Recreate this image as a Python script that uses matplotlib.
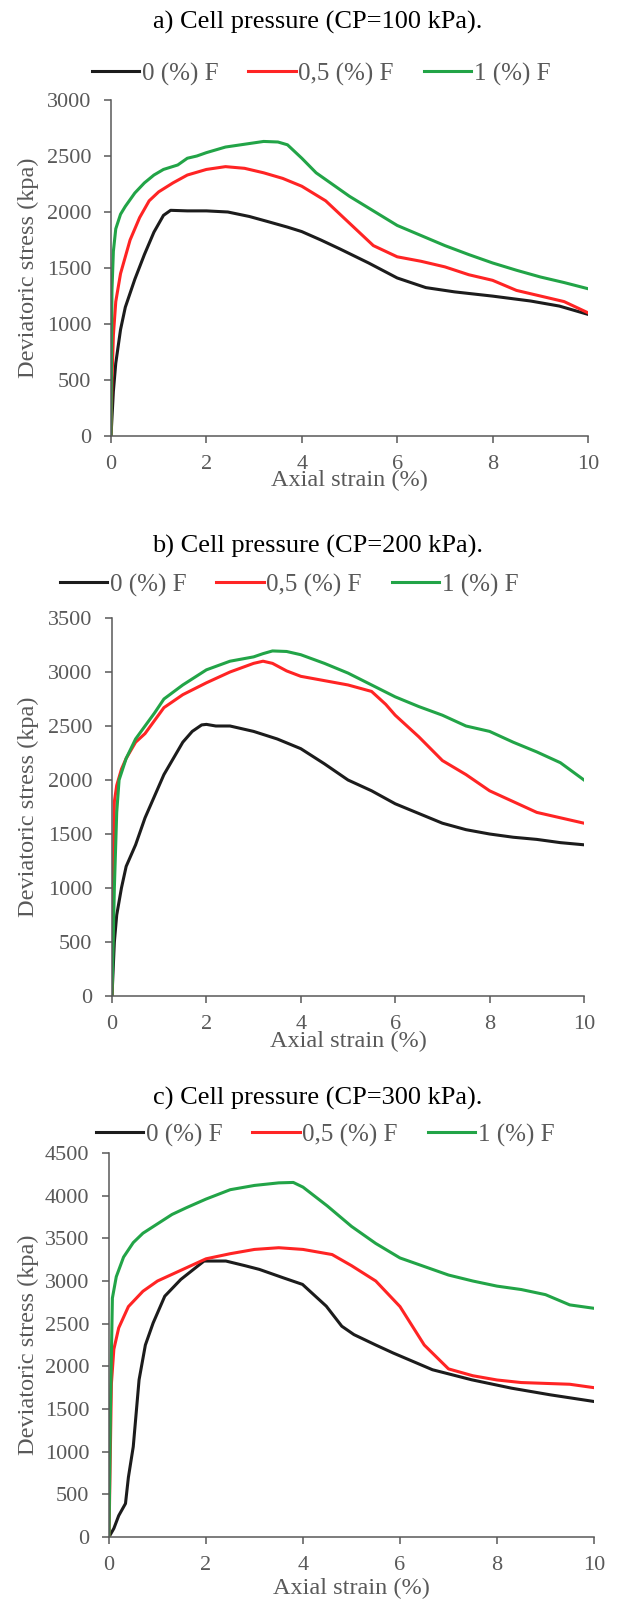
import matplotlib
matplotlib.use('Agg')
import matplotlib.pyplot as plt

plt.rcParams['font.family'] = ['Liberation Serif', 'DejaVu Serif']

# ---- data (axial strain %, deviatoric stress kPa) ----
labels = ['0 (%) F', '0,5 (%) F', '1 (%) F']
colors = ['#1c1c1c', '#ff2424', '#22a447']

# a) CP = 100 kPa
a_x0 = [0, 0.05, 0.1, 0.2, 0.3, 0.5, 0.7, 0.9, 1.1, 1.25, 1.6, 2.0, 2.45, 2.9, 3.3, 3.7, 4.0, 4.4, 4.8, 5.4, 6.0, 6.6, 7.2, 8.0, 8.8, 9.4, 10]
a_y0 = [0, 400, 650, 950, 1150, 1400, 1620, 1820, 1970, 2015, 2010, 2010, 2000, 1960, 1913, 1865, 1825, 1750, 1670, 1545, 1411, 1325, 1287, 1249, 1205, 1160, 1086]
a_x1 = [0, 0.02, 0.05, 0.1, 0.2, 0.4, 0.6, 0.8, 1.0, 1.3, 1.6, 2.0, 2.4, 2.8, 3.2, 3.6, 4.0, 4.5, 5.0, 5.5, 6.0, 6.5, 7.0, 7.5, 8.0, 8.5, 9.0, 9.5, 10]
a_y1 = [0, 500, 900, 1200, 1450, 1750, 1950, 2100, 2180, 2260, 2330, 2380, 2405, 2390, 2350, 2300, 2230, 2100, 1900, 1700, 1600, 1560, 1510, 1440, 1390, 1300, 1250, 1200, 1100]
a_x2 = [0, 0.02, 0.05, 0.1, 0.2, 0.3, 0.5, 0.7, 0.9, 1.1, 1.4, 1.6, 1.8, 2.0, 2.4, 2.8, 3.2, 3.5, 3.7, 4.0, 4.3, 4.7, 5.0, 5.5, 6.0, 6.5, 7.0, 7.5, 8.0, 8.5, 9.0, 9.5, 10]
a_y2 = [0, 1300, 1650, 1850, 1980, 2050, 2170, 2260, 2330, 2380, 2420, 2480, 2500, 2530, 2580, 2605, 2630, 2625, 2600, 2480, 2350, 2230, 2140, 2010, 1880, 1790, 1700, 1620, 1545, 1480, 1420, 1370, 1315]

# b) CP = 200 kPa
b_x0 = [0, 0.05, 0.1, 0.2, 0.3, 0.5, 0.7, 0.9, 1.1, 1.3, 1.5, 1.7, 1.9, 2.0, 2.2, 2.5, 3.0, 3.5, 4.0, 4.5, 5.0, 5.5, 6.0, 6.5, 7.0, 7.5, 8.0, 8.5, 9.0, 9.5, 10]
b_y0 = [0, 500, 750, 1000, 1200, 1400, 1650, 1850, 2050, 2200, 2350, 2450, 2510, 2515, 2500, 2500, 2450, 2380, 2290, 2150, 2000, 1900, 1780, 1690, 1600, 1540, 1500, 1470, 1450, 1420, 1400]
b_x1 = [0, 0.05, 0.1, 0.2, 0.3, 0.5, 0.7, 0.9, 1.1, 1.5, 2.0, 2.5, 3.0, 3.2, 3.4, 3.7, 4.0, 4.5, 5.0, 5.5, 5.8, 6.0, 6.5, 7.0, 7.5, 8.0, 8.5, 9.0, 9.5, 10]
b_y1 = [0, 1800, 1950, 2100, 2200, 2350, 2430, 2550, 2670, 2790, 2900, 3000, 3080, 3100, 3080, 3010, 2960, 2920, 2880, 2820, 2700, 2600, 2400, 2180, 2050, 1900, 1800, 1700, 1650, 1600]
b_x2 = [0, 0.05, 0.1, 0.15, 0.3, 0.5, 0.7, 0.9, 1.1, 1.5, 2.0, 2.5, 3.0, 3.2, 3.4, 3.7, 4.0, 4.5, 5.0, 5.5, 6.0, 6.5, 7.0, 7.5, 8.0, 8.5, 9.0, 9.5, 10]
b_y2 = [0, 1000, 1700, 2000, 2200, 2380, 2500, 2620, 2750, 2880, 3020, 3100, 3140, 3170, 3195, 3190, 3160, 3080, 2990, 2880, 2770, 2680, 2600, 2500, 2450, 2350, 2260, 2160, 2000]

# c) CP = 300 kPa
c_x0 = [0, 0.1, 0.2, 0.34, 0.4, 0.5, 0.62, 0.75, 0.91, 1.15, 1.48, 1.96, 2.41, 2.8, 3.1, 3.59, 3.99, 4.48, 4.8, 5.05, 5.5, 5.86, 6.67, 7.48, 8.3, 9.1, 10]
c_y0 = [0, 100, 250, 392, 700, 1058, 1842, 2250, 2508, 2822, 3018, 3234, 3234, 3180, 3136, 3038, 2960, 2705, 2470, 2372, 2250, 2156, 1960, 1842, 1744, 1666, 1588]
c_x1 = [0, 0.05, 0.1, 0.2, 0.4, 0.7, 1.0, 1.5, 2.0, 2.5, 3.0, 3.5, 4.0, 4.3, 4.6, 5.0, 5.5, 6.0, 6.5, 7.0, 7.5, 8.0, 8.5, 9.0, 9.5, 10]
c_y1 = [0, 1800, 2200, 2450, 2700, 2880, 3000, 3130, 3260, 3320, 3370, 3390, 3370, 3340, 3310, 3180, 3000, 2700, 2250, 1970, 1890, 1840, 1810, 1800, 1790, 1750]
c_x2 = [0, 0.03, 0.07, 0.15, 0.3, 0.5, 0.7, 1.0, 1.3, 1.6, 2.0, 2.5, 3.0, 3.5, 3.8, 4.0, 4.5, 5.0, 5.5, 6.0, 6.5, 7.0, 7.5, 8.0, 8.5, 9.0, 9.5, 10]
c_y2 = [0, 1500, 2800, 3050, 3280, 3450, 3560, 3670, 3780, 3860, 3960, 4070, 4120, 4150, 4155, 4100, 3880, 3640, 3440, 3270, 3170, 3070, 3000, 2940, 2900, 2840, 2720, 2680]

titles = ['a) Cell pressure (CP=100 kPa).', 'b) Cell pressure (CP=200 kPa).', 'c) Cell pressure (CP=300 kPa).']
ymax = [3000, 3500, 4500]
panels = [
    [(a_x0, a_y0), (a_x1, a_y1), (a_x2, a_y2)],
    [(b_x0, b_y0), (b_x1, b_y1), (b_x2, b_y2)],
    [(c_x0, c_y0), (c_x1, c_y1), (c_x2, c_y2)],
]

W, H = 617, 1618
fig = plt.figure(figsize=(W / 100, H / 100), dpi=100)

# layout in pixels: left, right, top, bottom of each plot area
boxes = [(111, 588, 100, 436), (112, 584, 618, 996), (109, 594, 1153, 1537)]
title_y = [22, 546, 1098]
legend_pos = [(321, 74), (289, 585), (325, 1135)]
xlabel_off = [44, 45, 51]

gray = '#595959'
for i in range(3):
    l, r, t, b = boxes[i]
    ax = fig.add_axes([l / W, 1 - b / H, (r - l) / W, (b - t) / H])
    for (xs, ys), lab, col in zip(panels[i], labels, colors):
        ax.plot(xs, ys, color=col, lw=2.2, label=lab, solid_joinstyle='round')
    ax.set_xlim(0, 10)
    ax.set_ylim(0, ymax[i])
    ax.set_xticks(range(0, 11, 2))
    ax.set_yticks(range(0, ymax[i] + 1, 500))
    for s in ['top', 'right']:
        ax.spines[s].set_visible(False)
    for s in ['left', 'bottom']:
        ax.spines[s].set_color(gray)
        ax.spines[s].set_linewidth(1.1)
    ax.tick_params(colors=gray, labelcolor=gray, labelsize=16, length=5, width=1.1, pad=9)
    ax.patch.set_alpha(0)

    ax.text(28 / W, 1 - ((t + b) / 2) / H, 'Deviatoric stress (kpa)', transform=fig.transFigure,
            rotation=90, ha='center', va='center', fontsize=17.5, color=gray)
    ax.text(((l + r) / 2) / W, 1 - (b + xlabel_off[i]) / H, 'Axial strain (%)', transform=fig.transFigure,
            ha='center', va='center', fontsize=17.5, color=gray)

    fig.text(318 / W, 1 - title_y[i] / H, titles[i], ha='center', va='center', fontsize=19, color='black')

    lx, ly = legend_pos[i]
    leg = ax.legend(loc='center', bbox_to_anchor=(lx / W, 1 - ly / H), bbox_transform=fig.transFigure,
                    ncol=3, frameon=False, fontsize=18, handlelength=1.9, handletextpad=0.1,
                    columnspacing=1.2, borderpad=0, borderaxespad=0)
    for txt in leg.get_texts():
        txt.set_color(gray)

fig.savefig('out.png', dpi=100)
